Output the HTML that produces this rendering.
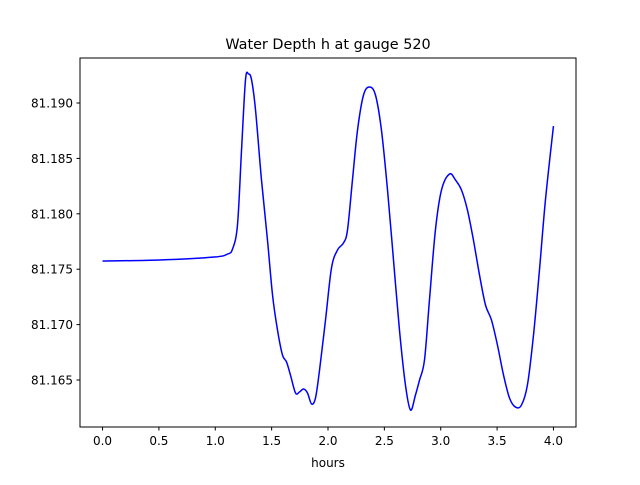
<!DOCTYPE html>
<html><head><meta charset="utf-8"><style>
body{margin:0;background:#fff}
svg text{font-family:"DejaVu Sans","Liberation Sans",sans-serif;fill:#000}
</style></head><body>
<svg id="chart" width="640" height="480" xmlns="http://www.w3.org/2000/svg">
<rect width="640" height="480" fill="#fff"/>
<text x="328" y="49" font-size="14.4" text-anchor="middle">Water Depth h at gauge 520</text>
<g id="plot"></g>
<rect x="80" y="58" width="496" height="369" fill="none" stroke="#000" stroke-width="1"/>
<text x="328" y="467" font-size="12" text-anchor="middle">hours</text>
</svg>
<script>
const hours=[0,0.506,0.993,1.109,1.153,1.197,1.233,1.268,1.295,1.322,1.357,1.410,1.463,1.508,1.552,1.596,1.632,1.667,1.712,1.747,1.783,1.818,1.854,1.889,1.925,1.978,2.031,2.084,2.137,2.173,2.217,2.262,2.315,2.368,2.421,2.474,2.528,2.581,2.634,2.687,2.732,2.776,2.812,2.856,2.900,2.953,3.007,3.078,3.131,3.184,3.237,3.290,3.344,3.397,3.450,3.503,3.557,3.610,3.663,3.716,3.769,3.823,3.876,3.929,4.0];
const depth=[81.17574,81.17583,81.17610,81.17637,81.17682,81.17899,81.18576,81.19208,81.19262,81.19208,81.18937,81.18305,81.17764,81.17267,81.16951,81.16726,81.16663,81.16545,81.16383,81.16392,81.16419,81.16383,81.16284,81.16338,81.16590,81.17042,81.17511,81.17673,81.17736,81.17854,81.18305,81.18756,81.19072,81.19144,81.19072,81.18756,81.18215,81.17583,81.16951,81.16455,81.16229,81.16365,81.16500,81.16681,81.17222,81.17854,81.18215,81.18359,81.18305,81.18215,81.18034,81.17764,81.17448,81.17177,81.17042,81.16816,81.16545,81.16338,81.16256,81.16274,81.16455,81.16906,81.17493,81.18125,81.18792];
const xTicks=[0,0.5,1,1.5,2,2.5,3,3.5,4];
const xTickLabels=["0.0","0.5","1.0","1.5","2.0","2.5","3.0","3.5","4.0"];
const yTicks=[81.165,81.170,81.175,81.180,81.185,81.190];
const yTickLabels=["81.165","81.170","81.175","81.180","81.185","81.190"];
const X0=80,X1=576,Y0=58,Y1=427,xmin=-0.2,xmax=4.2,ymax=81.19406,ymin=81.16076;
const sx=v=>X0+(v-xmin)/(xmax-xmin)*(X1-X0);
const sy=v=>Y0+(ymax-v)/(ymax-ymin)*(Y1-Y0);
const NS="http://www.w3.org/2000/svg",g=document.getElementById('plot');
function mk(t,a){const e=document.createElementNS(NS,t);for(const k in a)e.setAttribute(k,a[k]);return e;}
xTicks.forEach((t,i)=>{
 const l=mk('line',{x1:sx(t),x2:sx(t),y1:Y1,y2:Y1+3.5,stroke:'#000'});
 
 
 g.appendChild(l);
 const tx=mk('text',{x:sx(t),y:Y1+18,'font-size':12,'text-anchor':'middle'});
 
 
 tx.textContent=xTickLabels[i];g.appendChild(tx);
});
yTicks.forEach((t,i)=>{
 const l=mk('line',{x1:X0-3.5,x2:X0,y1:sy(t),y2:sy(t),stroke:'#000'});
 
 
 g.appendChild(l);
 const tx=mk('text',{x:X0-7,y:sy(t)+4.5,'font-size':12,'text-anchor':'end'});
 
 
 tx.textContent=yTickLabels[i];g.appendChild(tx);
});
const P=hours.map((h,i)=>[sx(h),sy(depth[i])]);
let d='M'+P[0][0]+','+P[0][1];
for(let i=0;i<P.length-1;i++){
 const p0=P[Math.max(0,i-1)],p1=P[i],p2=P[i+1],p3=P[Math.min(P.length-1,i+2)];
 const c1=[p1[0]+(p2[0]-p0[0])/6,p1[1]+(p2[1]-p0[1])/6];
 const c2=[p2[0]-(p3[0]-p1[0])/6,p2[1]-(p3[1]-p1[1])/6];
 d+=` C${c1[0]},${c1[1]} ${c2[0]},${c2[1]} ${p2[0]},${p2[1]}`;
}
const path=mk('path',{d:d,fill:'none',stroke:'#0000ff','stroke-width':1.5});


g.appendChild(path);
</script>
</body></html>
